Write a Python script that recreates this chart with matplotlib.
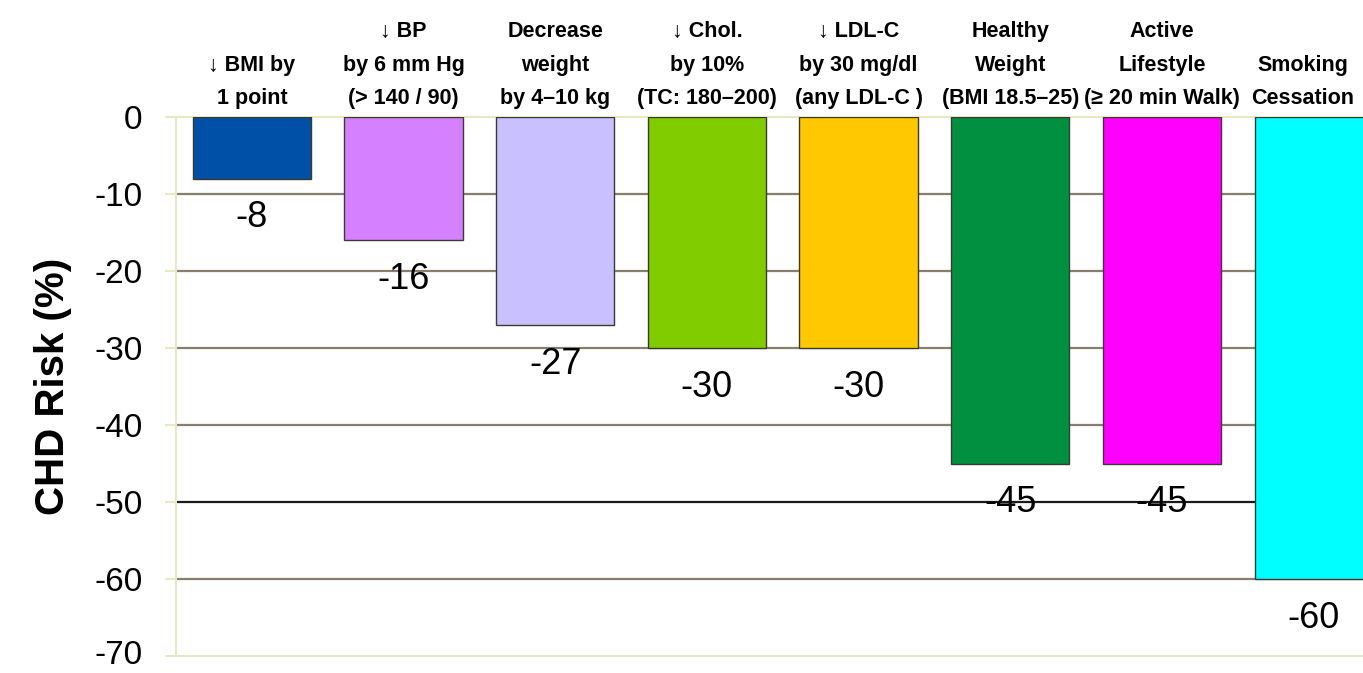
import matplotlib
matplotlib.use("Agg")
import matplotlib.pyplot as plt
from matplotlib.transforms import ScaledTranslation

# Interventions and their estimated reduction in CHD risk (%)
interventions = [
    "\u2193 BMI by\n1 point",
    "\u2193 BP\nby 6 mm Hg\n(> 140 / 90)",
    "Decrease\nweight\nby 4\u201310 kg",
    "\u2193 Chol.\nby 10%\n(TC: 180\u2013200)",
    "\u2193 LDL-C\nby 30 mg/dl\n(any LDL-C )",
    "Healthy\nWeight\n(BMI 18.5\u201325)",
    "Active\nLifestyle\n(\u2265 20 min Walk)",
    "Smoking\nCessation",
]
risk_change = [-8, -16, -27, -30, -30, -45, -45, -60]
bar_colors = ["#0050a8", "#d580ff", "#c8c0ff", "#80cc00",
              "#ffc800", "#009040", "#ff00ff", "#00ffff"]
y_ticks = [0, -10, -20, -30, -40, -50, -60, -70]

fonts = ["Liberation Sans", "DejaVu Sans"]

fig = plt.figure(figsize=(13.63, 6.73), dpi=100)
ax = fig.add_axes([176 / 1363, 17 / 673, 1 - 176 / 1363, 539 / 673])

x = list(range(len(risk_change)))
ax.bar(x, risk_change, width=0.78, color=bar_colors,
       edgecolor="#3a3a34", linewidth=1.0, zorder=3)

ax.set_xlim(-0.5, 7.325)
ax.set_ylim(-70, 0)

# horizontal gridlines; the -50 line is drawn darker
for v in y_ticks[1:-1]:
    col = "#1a1a1a" if v == -50 else "#857f6c"
    ax.axhline(v, color=col, linewidth=1.6, zorder=1)

ax.set_yticks(y_ticks)
ax.set_yticklabels([str(v) for v in y_ticks], fontsize=24, family=fonts)
ax.set_xticks([])
ax.tick_params(axis="y", length=8, color="#e8e8c4", width=1.5, pad=16)

# keep the lowest tick label clear of the figure's bottom edge
lowest = ax.get_yticklabels()[-1]
lowest.set_transform(lowest.get_transform()
                     + ScaledTranslation(0, 3 / 72, fig.dpi_scale_trans))

for side in ["left", "bottom", "top"]:
    ax.spines[side].set_color("#e8e8c4")
    ax.spines[side].set_linewidth(1.5)
ax.spines["right"].set_visible(False)

ax.set_ylabel("CHD Risk (%)", fontsize=29, fontweight="bold",
              family=fonts, labelpad=16)

# value labels under each bar
for xi, v in zip(x, risk_change):
    ax.text(xi, v - 5.1, str(v), ha="center", va="center", fontsize=26,
            family=fonts, zorder=4)

# intervention headings above the bars (the last one nudged inward
# so it stays inside the figure)
for xi, name in zip(x, interventions):
    xpos = xi - 0.07 if xi == len(x) - 1 else xi
    ax.text(xpos, 1.0, name, ha="center", va="bottom", fontsize=15.5,
            fontweight="bold", linespacing=1.78, clip_on=False,
            family=fonts)

fig.savefig("out.png", dpi=100)
